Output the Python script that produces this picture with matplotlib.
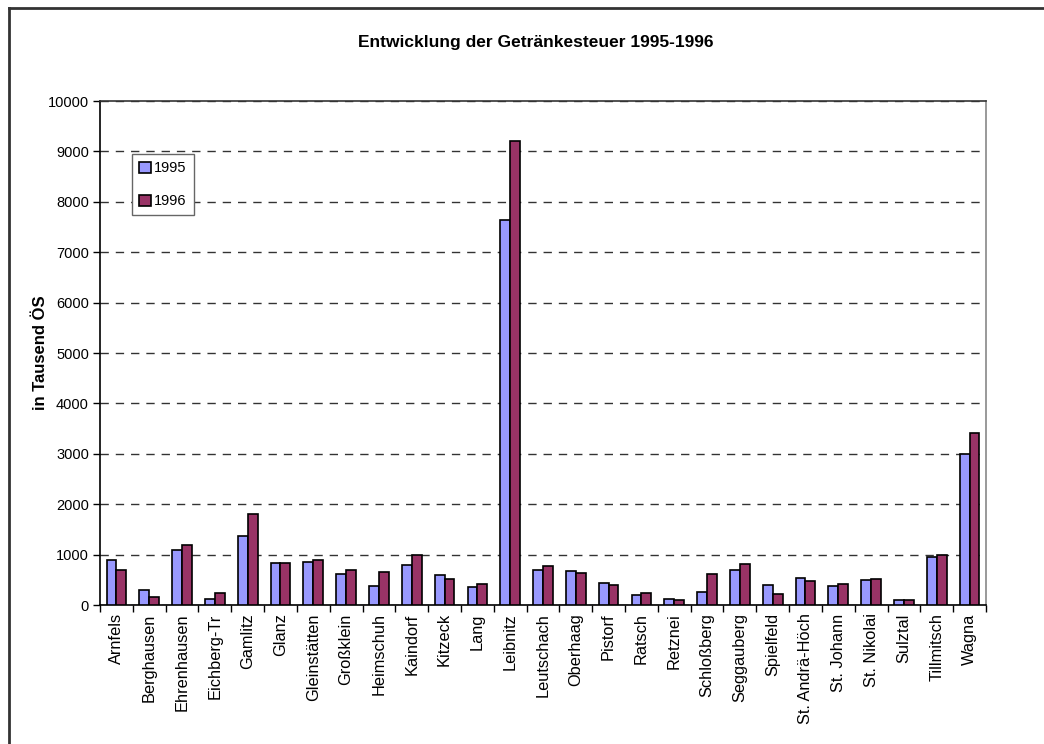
import numpy as np
import matplotlib.pyplot as plt
from matplotlib.lines import Line2D

plt.rcParams['font.family'] = ['Liberation Sans', 'DejaVu Sans']

gemeinden = ["Arnfels", "Berghausen", "Ehrenhausen", "Eichberg-Tr", "Gamlitz", "Glanz",
             "Gleinstätten", "Großklein", "Heimschuh", "Kaindorf", "Kitzeck", "Lang",
             "Leibnitz", "Leutschach", "Oberhaag", "Pistorf", "Ratsch", "Retznei",
             "Schloßberg", "Seggauberg", "Spielfeld", "St. Andrä-Höch", "St. Johann",
             "St. Nikolai", "Sulztal", "Tillmitsch", "Wagna"]
werte_1995 = [900, 290, 1100, 125, 1365, 835, 850, 615, 375, 795, 605, 350,
              7635, 700, 670, 435, 200, 120, 260, 695, 390, 530, 375, 505, 105, 955, 2990]
werte_1996 = [700, 165, 1200, 245, 1800, 835, 885, 695, 660, 1000, 525, 415,
              9205, 770, 640, 405, 245, 95, 625, 810, 210, 470, 415, 525, 105, 995, 3420]
yticks = list(range(0, 10001, 1000))

fig = plt.figure(figsize=(10.44, 7.44), dpi=100)
ax = fig.add_axes([0.0958, 0.1868, 0.8486, 0.6774])

x = np.arange(len(gemeinden))
w = 0.3
ax.bar(x - w / 2, werte_1995, w, color="#9999FF", edgecolor="black", linewidth=1.2, label="1995", zorder=3)
ax.bar(x + w / 2, werte_1996, w, color="#993366", edgecolor="black", linewidth=1.2, label="1996", zorder=3)

ax.set_xlim(-0.5, len(gemeinden) - 0.5)
ax.set_ylim(0, 10000)
ax.set_yticks(yticks)
ax.set_yticklabels([str(v) for v in yticks], fontsize=10.5)
ax.yaxis.grid(True, linestyle=(0, (6, 5)), color="#333333", linewidth=1)
ax.set_axisbelow(True)

ax.set_xticks(x)
ax.set_xticklabels(gemeinden, rotation=90, fontsize=11.8)
ax.tick_params(axis="x", length=0, pad=6)
ax.set_xticks(np.arange(-0.5, len(gemeinden)), minor=True)
ax.tick_params(axis="x", which="minor", length=5, color="black", width=1)
ax.tick_params(axis="y", length=5, width=1, pad=3)

ax.spines["left"].set_color("black")
ax.spines["bottom"].set_color("black")
ax.spines["top"].set_color("#333333")
ax.spines["right"].set_color("#888888")
for s in ax.spines.values():
    s.set_linewidth(1.2)

ax.set_ylabel("in Tausend ÖS", fontsize=12, fontweight="bold", labelpad=0)
fig.text(0.513, 0.943, "Entwicklung der Getränkesteuer 1995-1996", ha="center", va="center",
         fontsize=12.5, fontweight="bold")

leg = ax.legend(loc="upper left", bbox_to_anchor=(0.036, 0.895), borderaxespad=0,
                fontsize=10.5, fancybox=False, edgecolor="#666666", framealpha=1,
                handlelength=0.8, handleheight=0.8, handletextpad=0.2,
                labelspacing=1.3, borderpad=0.5)
leg.get_frame().set_linewidth(1)

# outer chart frame (top and left edges visible)
fig.add_artist(Line2D([8.5 / 1044, 1], [1 - 7.5 / 744, 1 - 7.5 / 744], color="#333333", linewidth=2))
fig.add_artist(Line2D([8.5 / 1044, 8.5 / 1044], [0, 1 - 7.5 / 744], color="#333333", linewidth=2))

fig.savefig("out.png", dpi=100)
